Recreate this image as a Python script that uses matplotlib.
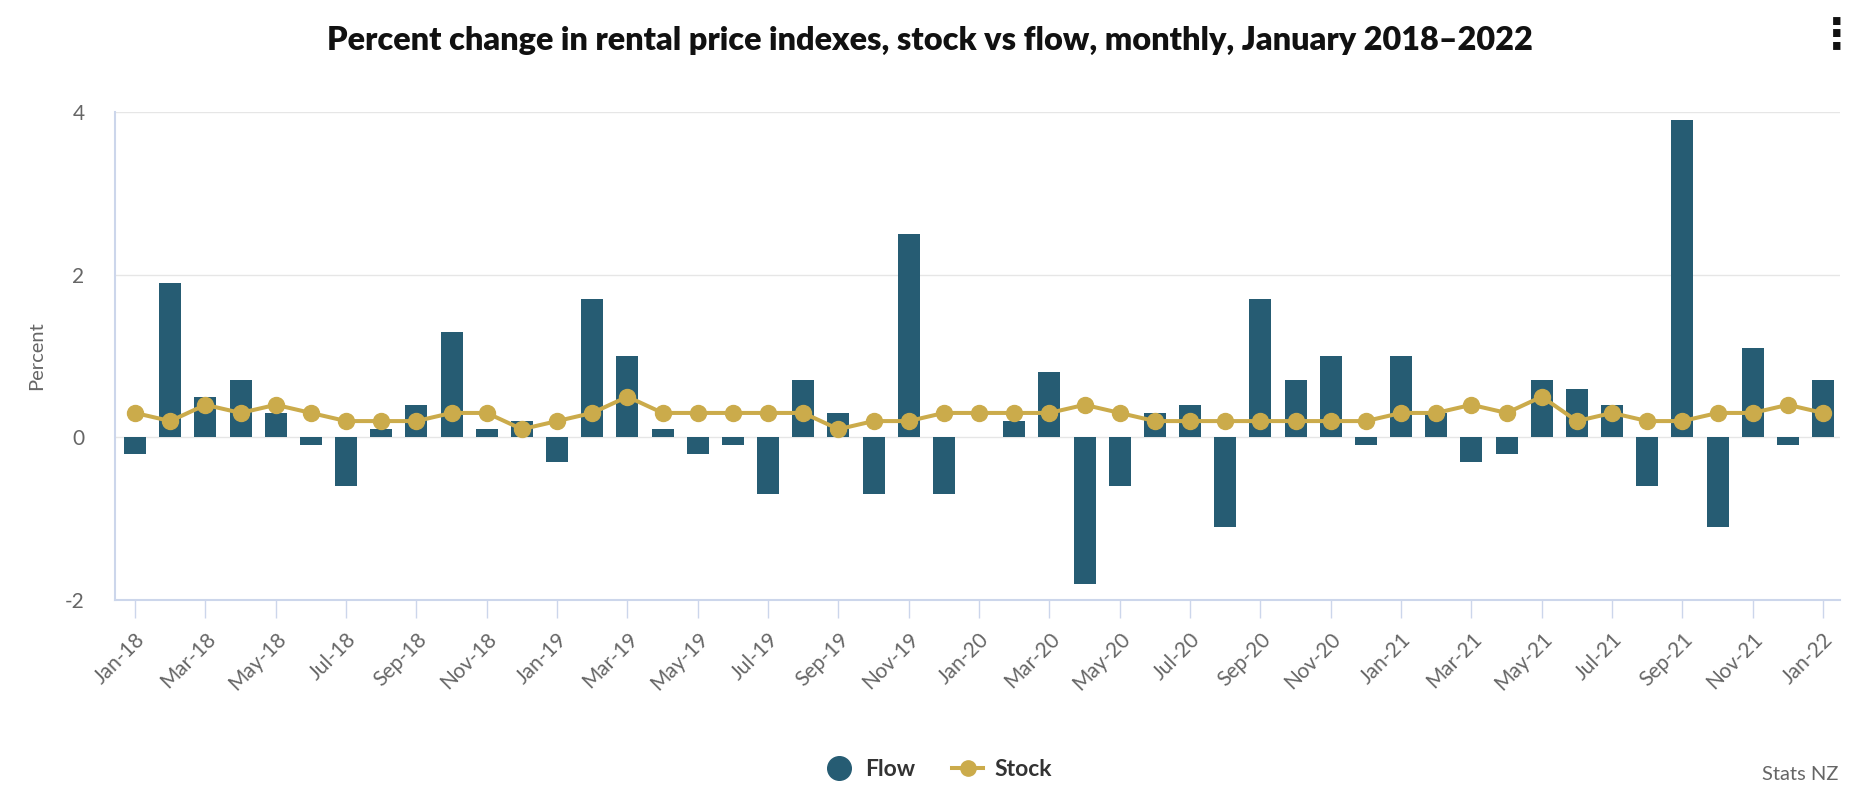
import numpy as np
import matplotlib
matplotlib.use("Agg")
import matplotlib.pyplot as plt
from matplotlib.lines import Line2D

plt.rcParams['font.family'] = ['Lato', 'DejaVu Sans']

# monthly categories, Jan 2018 to Jan 2022
month_names = ['Jan', 'Feb', 'Mar', 'Apr', 'May', 'Jun',
               'Jul', 'Aug', 'Sep', 'Oct', 'Nov', 'Dec']
years = ['18', '19', '20', '21']
months = [m + '-' + y for y in years for m in month_names] + ['Jan-22']

flow = [-0.2, 1.9, 0.5, 0.7, 0.3, -0.1, -0.6, 0.1, 0.4, 1.3, 0.1, 0.2,
        -0.3, 1.7, 1.0, 0.1, -0.2, -0.1, -0.7, 0.7, 0.3, -0.7, 2.5, -0.7,
        0.0, 0.2, 0.8, -1.8, -0.6, 0.3, 0.4, -1.1, 1.7, 0.7, 1.0, -0.1,
        1.0, 0.3, -0.3, -0.2, 0.7, 0.6, 0.4, -0.6, 3.9, -1.1, 1.1, -0.1,
        0.7]
stock = [0.3, 0.2, 0.4, 0.3, 0.4, 0.3, 0.2, 0.2, 0.2, 0.3, 0.3, 0.1,
         0.2, 0.3, 0.5, 0.3, 0.3, 0.3, 0.3, 0.3, 0.1, 0.2, 0.2, 0.3,
         0.3, 0.3, 0.3, 0.4, 0.3, 0.2, 0.2, 0.2, 0.2, 0.2, 0.2, 0.2,
         0.3, 0.3, 0.4, 0.3, 0.5, 0.2, 0.3, 0.2, 0.2, 0.3, 0.3, 0.4,
         0.3]
y_ticks = [-2, 0, 2, 4]

flow_color = '#265c73'
stock_color = '#cbab4b'
axis_color = '#ccd6eb'
grid_color = '#e6e6e6'
text_grey = '#666666'

fig = plt.figure(figsize=(18.68, 8.08), dpi=100)
ax = fig.add_axes([0.0616, 0.2574, 0.9234, 0.604])

x = np.arange(len(months))
ax.bar(x, flow, width=0.625, color=flow_color, zorder=2)
ax.plot(x, stock, color=stock_color, lw=2.9, marker='o', markersize=11.5, zorder=3)

ax.set_xlim(-0.57, 48.48)
ax.set_ylim(-2, 4)
ax.set_yticks(y_ticks)
ax.set_yticklabels([str(v) for v in y_ticks])
ax.set_xticks(x[::2])
ax.set_xticklabels(months[::2], rotation=45, ha='right', rotation_mode='anchor')

ax.grid(axis='y', color=grid_color, lw=1, zorder=0)
ax.set_axisbelow(True)
for s in ['top', 'right']:
    ax.spines[s].set_visible(False)
ax.spines['left'].set_color(axis_color)
ax.spines['left'].set_linewidth(1.5)
ax.spines['bottom'].set_color(axis_color)
ax.spines['bottom'].set_linewidth(1.5)

ax.tick_params(axis='x', length=13, width=1, color=axis_color, labelsize=15,
               labelcolor=text_grey, pad=8)
ax.tick_params(axis='y', length=0, labelsize=15, labelcolor=text_grey, pad=22)
ax.set_ylabel('Percent', fontsize=14.5, color=text_grey, labelpad=14)

fig.suptitle('Percent change in rental price indexes, stock vs flow, monthly, January 2018\u20132022',
             x=0.498, y=0.968, fontsize=23.3, fontweight='heavy', color='#111111')

# menu icon in the top right corner
fig.text(0.983, 0.955, '\u22ee', fontsize=30, fontweight='bold', ha='center', va='center',
         color='#111111', family='DejaVu Sans')

handles = [Line2D([], [], ls='none', marker='o', markersize=17, color=flow_color),
           Line2D([], [], color=stock_color, lw=2.9, marker='o', markersize=11)]
leg = fig.legend(handles, ['Flow', 'Stock'], loc='center', bbox_to_anchor=(0.502, 0.048),
                 ncol=2, frameon=False, handlelength=1.35, columnspacing=1.6,
                 handletextpad=0.5, prop={'size': 16.5, 'weight': 'bold'})
for t in leg.get_texts():
    t.set_color('#333333')

fig.text(0.984, 0.041, 'Stats NZ', fontsize=14.5, color=text_grey, ha='right', va='center')

fig.savefig('out.png', dpi=100)
